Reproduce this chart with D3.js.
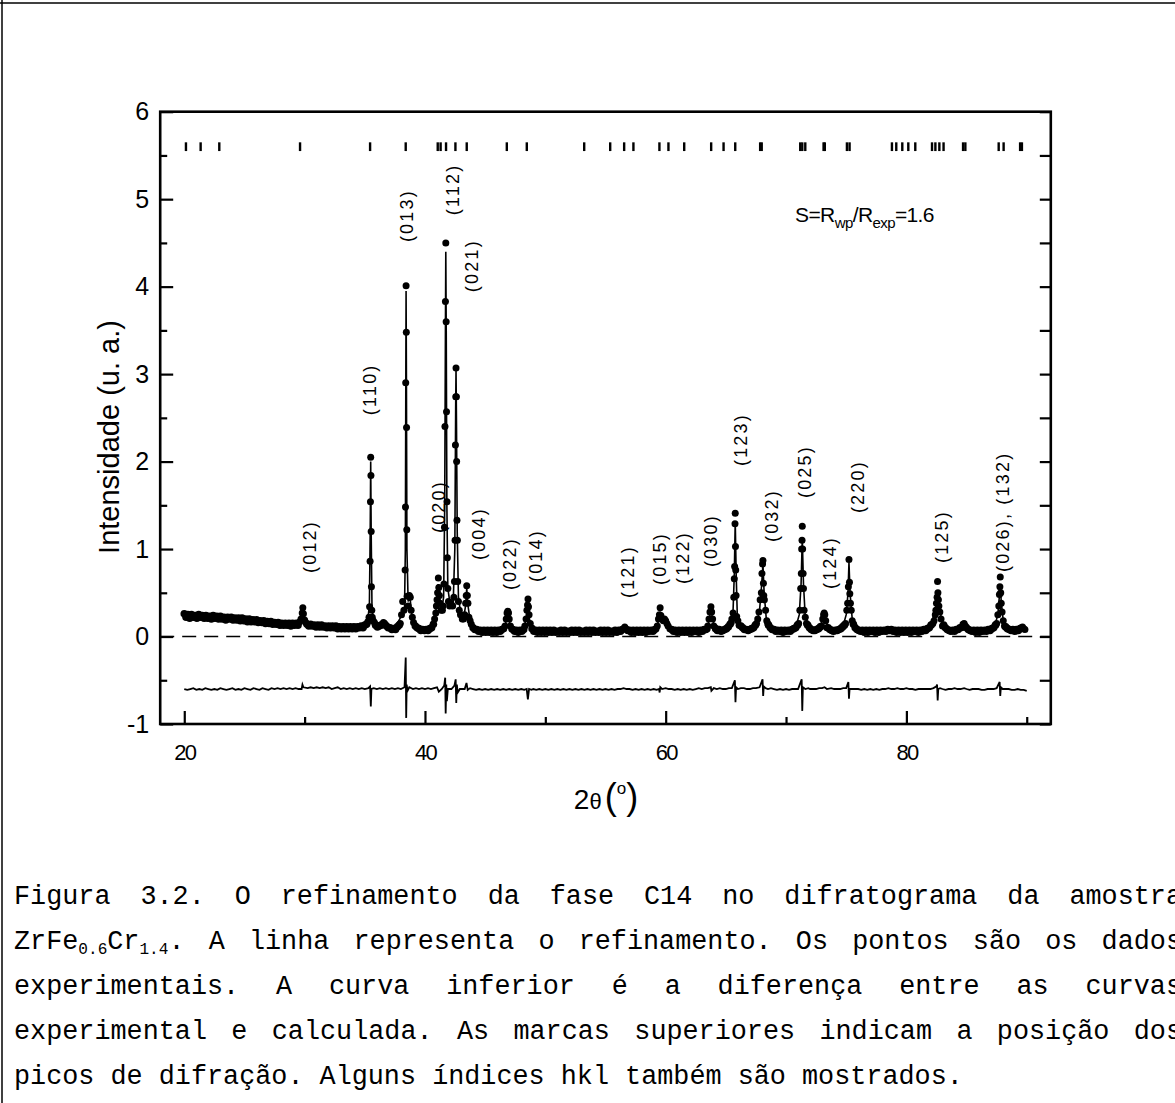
<!DOCTYPE html>
<html><head><meta charset="utf-8">
<script src="https://cdn.jsdelivr.net/npm/d3@7"></script>
<style>
html,body{margin:0;padding:0;background:#fff;}
svg{display:block;}
</style></head><body>
<svg id="c" width="1175" height="1103"></svg>
<script>
// ---------------- DATA ----------------
const xTicksMajor = [20, 40, 60, 80];
const xTicksMinor = [30, 50, 70, 90];
const yTicksMajor = [-1, 0, 1, 2, 3, 4, 5, 6];
const yTicksMinor = [-0.5, 0.5, 1.5, 2.5, 3.5, 4.5, 5.5];

// observed points: background band (2theta, intensity)
const obsBackground = [
[20.0,.26],[20.15,.22],[20.3,.25],[20.45,.21],[20.6,.25],[20.75,.22],[20.9,.24],[21.05,.21],[21.2,.25],[21.35,.22],
[21.5,.24],[21.65,.21],[21.8,.24],[21.95,.21],[22.1,.23],[22.25,.20],[22.4,.24],[22.55,.21],[22.7,.23],[22.85,.20],
[23.0,.23],[23.15,.20],[23.3,.22],[23.45,.19],[23.6,.22],[23.75,.20],[23.9,.22],[24.05,.19],[24.2,.21],[24.35,.19],
[24.5,.21],[24.65,.18],[24.8,.21],[24.95,.18],[25.1,.20],[25.25,.17],[25.4,.20],[25.55,.17],[25.7,.19],[25.85,.17],
[26.0,.19],[26.15,.16],[26.3,.18],[26.45,.16],[26.6,.18],[26.75,.15],[26.9,.17],[27.05,.15],[27.2,.17],[27.35,.14],
[27.5,.16],[27.65,.14],[27.8,.16],[27.95,.13],[28.1,.15],[28.25,.13],[28.4,.15],[28.55,.13],[28.7,.15],[28.85,.12],
[29.0,.15],[29.15,.13],[29.3,.15],[29.45,.13],[30.2,.14],[30.35,.12],[30.5,.14],[30.65,.12],[30.8,.13],[30.95,.11],
[31.1,.13],[31.25,.11],[31.4,.13],[31.55,.11],[31.7,.12],[31.85,.10],[32.0,.12],[32.15,.10],[32.3,.12],[32.45,.10],
[32.6,.12],[32.75,.09],[32.9,.11],[33.05,.09],[33.2,.11],[33.35,.09],[33.5,.11],[33.65,.09],[33.8,.11],[33.95,.09],
[34.1,.11],[34.25,.09],[34.4,.11],[34.55,.10],[34.7,.12],[34.85,.10],[35.0,.13],[35.15,.14],[35.9,.13],[36.05,.11],
[36.2,.12],[36.35,.13],[36.8,.12],[36.95,.10],[37.1,.10],[37.25,.08],[37.4,.09],[37.55,.08],[37.7,.11],[37.85,.13],
[39.2,.12],[39.35,.10],[39.5,.09],[39.65,.07],[39.8,.08],[39.95,.07],[40.1,.08],[40.25,.07],[40.4,.09],[40.55,.10],
[40.7,.14],[44.0,.10],[44.15,.08],[44.3,.08],[44.45,.06],[44.6,.07],[44.75,.05],[44.9,.07],[45.05,.05],[45.2,.07],
[45.35,.05],[45.5,.07],[45.65,.05],[45.8,.07],[45.95,.05],[46.1,.07],[46.25,.06],[46.4,.08],[47.3,.08],[47.45,.06],
[47.6,.07],[47.75,.05],[47.9,.07],[48.05,.06],[48.2,.08],[48.9,.09],[49.05,.06],[49.2,.07],[49.35,.05],[49.5,.07],
[49.65,.05],[49.8,.07],[49.95,.05],[50.1,.07],[50.25,.05],[50.4,.07],[50.55,.05],[50.7,.07],[50.85,.05],[51.0,.06],
[51.15,.05],[51.3,.07],[51.45,.05],[51.6,.07],[51.75,.05],[51.9,.06],[52.05,.05],[52.2,.07],[52.35,.05],[52.5,.07],
[52.65,.05],[52.8,.07],[52.95,.05],[53.1,.06],[53.25,.05],[53.4,.07],[53.55,.05],[53.7,.07],[53.85,.05],[54.0,.07],
[54.15,.05],[54.3,.06],[54.45,.05],[54.6,.07],[54.75,.05],[54.9,.07],[55.05,.05],[55.2,.07],[55.35,.05],[55.5,.06],
[55.65,.05],[55.8,.07],[55.95,.05],[56.1,.07],[56.25,.06],[56.4,.08],[56.85,.07],[57.0,.07],[57.15,.05],[57.3,.07],
[57.45,.05],[57.6,.07],[57.75,.05],[57.9,.07],[58.05,.05],[58.2,.07],[58.35,.05],[58.5,.07],[58.65,.06],[58.8,.07],
[58.95,.06],[59.1,.08],[60.5,.08],[60.65,.06],[60.8,.07],[60.95,.05],[61.1,.07],[61.25,.05],[61.4,.07],[61.55,.05],
[61.7,.07],[61.85,.05],[62.0,.07],[62.15,.05],[62.3,.07],[62.45,.06],[62.6,.07],[62.75,.05],[62.9,.07],[63.05,.06],
[63.2,.08],[63.35,.08],[64.15,.09],[64.3,.07],[64.45,.08],[64.6,.06],[64.75,.07],[64.9,.08],[65.05,.09],[65.2,.11],
[65.35,.14],[66.25,.12],[66.4,.10],[66.55,.08],[66.7,.08],[66.85,.07],[67.0,.08],[67.15,.09],[67.3,.10],[67.45,.13],
[68.55,.13],[68.7,.10],[68.85,.08],[69.0,.08],[69.15,.06],[69.3,.07],[69.45,.06],[69.6,.07],[69.75,.05],[69.9,.07],
[70.05,.06],[70.2,.07],[70.35,.06],[70.5,.08],[70.65,.09],[70.8,.10],[70.95,.13],[71.8,.13],[71.95,.10],[72.1,.08],
[72.25,.07],[72.4,.07],[72.55,.08],[72.7,.09],[72.85,.11],[73.5,.10],[73.65,.08],[73.8,.07],[73.95,.06],[74.1,.07],
[74.25,.07],[74.4,.08],[74.55,.09],[74.7,.11],[74.85,.13],[75.6,.14],[75.75,.10],[75.9,.08],[76.05,.07],[76.2,.06],
[76.35,.07],[76.5,.05],[76.65,.07],[76.8,.05],[76.95,.07],[77.1,.06],[77.25,.07],[77.4,.05],[77.55,.07],[77.7,.05],
[77.85,.07],[78.0,.06],[78.15,.07],[78.3,.06],[78.45,.08],[78.6,.07],[78.75,.08],[78.9,.06],[79.05,.07],[79.2,.05],
[79.35,.07],[79.5,.05],[79.65,.07],[79.8,.05],[79.95,.07],[80.1,.05],[80.25,.07],[80.4,.05],[80.55,.07],[80.7,.06],
[80.85,.07],[81.0,.05],[81.15,.07],[81.3,.06],[81.45,.08],[81.6,.07],[81.75,.09],[81.9,.10],[82.05,.13],[83.1,.13],
[83.25,.10],[83.4,.08],[83.55,.07],[83.7,.06],[83.85,.07],[84.0,.06],[84.15,.08],[84.3,.08],[84.45,.10],[85.0,.10],
[85.15,.08],[85.3,.07],[85.45,.06],[85.6,.07],[85.75,.05],[85.9,.07],[86.05,.05],[86.2,.07],[86.35,.06],[86.5,.07],
[86.65,.06],[86.8,.08],[86.95,.07],[87.1,.09],[87.25,.10],[87.4,.13],[88.25,.11],[88.4,.09],[88.55,.08],[88.7,.07],
[88.85,.08],[89.0,.06],[89.15,.08],[89.3,.07],[89.45,.09]
];

// observed points on the diffraction peaks (2theta, intensity)
const obsPeaks = [
[29.6,.17],[29.7,.20],[29.8,.27],[29.85,.33],[29.9,.26],[30.0,.19],[30.1,.16],
[35.25,.17],[35.35,.22],[35.40,.34],[35.44,.86],[35.47,1.54],[35.49,2.05],[35.51,1.84],[35.53,1.20],[35.55,.57],[35.58,.30],[35.62,.22],[35.7,.18],[35.8,.16],
[36.45,.14],[36.55,.16],[36.65,.15],[36.75,.13],
[37.95,.15],[38.05,.25],[38.15,.40],[38.25,.30],[38.35,.76],[38.38,1.48],[38.40,2.90],[38.43,4.01],[38.45,3.48],[38.47,2.39],[38.49,1.22],[38.52,.46],[38.6,.35],[38.7,.47],[38.78,.45],[38.85,.30],[38.95,.22],[39.05,.16],
[40.8,.20],[40.9,.27],[40.95,.35],[41.0,.42],[41.05,.50],[41.11,.67],[41.15,.56],[41.2,.47],[41.25,.38],[41.35,.30],[41.45,.30],
[41.5,.35],[41.58,.60],[41.62,1.25],[41.66,2.40],[41.70,3.83],[41.73,4.50],[41.76,3.60],[41.79,2.57],[41.83,1.54],[41.86,.90],[41.9,.55],[41.95,.40],[42.05,.35],[42.15,.38],
[42.3,.35],[42.4,.45],[42.45,.63],[42.5,1.10],[42.53,2.19],[42.56,2.74],[42.58,3.07],[42.61,2.74],[42.63,2.00],[42.66,1.33],[42.69,1.10],[42.72,.63],[42.78,.40],[42.85,.30],[42.95,.25],
[43.1,.20],[43.2,.20],[43.3,.25],[43.38,.38],[43.43,.47],[43.47,.58],[43.52,.47],[43.57,.38],[43.65,.22],[43.75,.18],[43.85,.14],
[46.55,.09],[46.65,.12],[46.75,.20],[46.82,.27],[46.88,.29],[46.94,.27],[47.0,.20],[47.1,.12],[47.2,.09],
[48.3,.12],[48.4,.20],[48.47,.30],[48.52,.36],[48.56,.43],[48.6,.34],[48.65,.25],[48.75,.15],
[56.5,.09],[56.6,.11],[56.7,.09],
[59.2,.09],[59.3,.12],[59.4,.20],[59.48,.25],[59.54,.33],[59.6,.24],[59.7,.20],[59.8,.18],[59.9,.20],[60.0,.18],[60.1,.15],[60.2,.12],[60.35,.09],
[63.45,.09],[63.5,.12],[63.6,.20],[63.68,.28],[63.76,.34],[63.82,.28],[63.9,.20],[64.0,.12],
[65.45,.16],[65.5,.20],[65.6,.27],[65.66,.45],[65.7,.66],[65.73,.80],[65.76,1.29],[65.78,1.41],[65.8,1.03],[65.82,.76],[65.85,.47],[65.9,.23],[66.0,.18],[66.1,.13],
[67.55,.15],[67.65,.20],[67.75,.28],[67.85,.42],[67.95,.50],[68.0,.72],[68.05,.83],[68.08,.87],[68.12,.61],[68.15,.47],[68.2,.42],[68.3,.30],[68.4,.18],[68.48,.15],
[71.05,.15],[71.15,.30],[71.22,.55],[71.27,.72],[71.3,1.00],[71.33,1.10],[71.35,1.26],[71.38,1.00],[71.42,.72],[71.45,.55],[71.5,.30],[71.6,.22],[71.7,.15],
[72.95,.12],[73.05,.20],[73.12,.25],[73.17,.27],[73.22,.25],[73.3,.18],[73.4,.10],
[74.95,.15],[75.05,.30],[75.12,.38],[75.18,.57],[75.23,.88],[75.27,.62],[75.3,.49],[75.35,.38],[75.42,.30],[75.5,.18],
[82.2,.15],[82.3,.18],[82.4,.25],[82.45,.30],[82.5,.38],[82.55,.45],[82.59,.63],[82.62,.50],[82.66,.42],[82.7,.35],[82.78,.28],[82.88,.20],[83.0,.12],
[84.6,.10],[84.7,.14],[84.8,.15],[84.9,.12],
[87.5,.15],[87.6,.25],[87.68,.35],[87.73,.48],[87.77,.57],[87.8,.68],[87.84,.50],[87.88,.38],[87.95,.28],[88.05,.18],[88.15,.12],
[89.55,.10],[89.65,.11],[89.75,.09],[89.85,.08]
];

// calculated (refined) profile
const calcProfile = [
[20,.24],[22,.23],[24,.215],[26,.19],[28,.16],[29.6,.15],[29.75,.2],[29.83,.28],[29.92,.2],[30.1,.15],[32,.12],[34,.11],
[35.2,.14],[35.38,.35],[35.45,1.2],[35.49,2.0],[35.53,1.2],[35.6,.3],[35.8,.16],[36.3,.13],[36.55,.16],[36.8,.13],[37.5,.1],
[38.1,.25],[38.3,.32],[38.37,1.0],[38.41,3.0],[38.43,3.95],[38.46,2.9],[38.5,1.0],[38.6,.4],[38.75,.45],[38.95,.2],[39.5,.09],
[40.5,.09],[40.85,.22],[41.0,.42],[41.1,.6],[41.2,.45],[41.4,.32],[41.55,.45],[41.64,1.5],[41.7,3.5],[41.73,4.4],[41.77,3.4],
[41.82,1.5],[41.9,.55],[42.1,.36],[42.35,.4],[42.48,1.0],[42.55,2.6],[42.58,3.05],[42.62,2.4],[42.68,1.2],[42.78,.45],[42.95,.28],
[43.2,.2],[43.38,.36],[43.47,.55],[43.57,.36],[43.75,.18],[44.2,.09],[46.0,.07],[46.7,.15],[46.88,.27],[47.05,.15],[47.4,.07],
[48.2,.08],[48.42,.22],[48.55,.38],[48.68,.2],[48.9,.08],[56.3,.07],[56.6,.1],[56.9,.07],[59.2,.08],[59.4,.18],[59.54,.28],
[59.7,.2],[59.9,.19],[60.1,.15],[60.4,.08],[63.4,.08],[63.6,.18],[63.76,.32],[63.92,.18],[64.2,.08],[65.3,.12],[65.6,.3],
[65.7,.7],[65.78,1.32],[65.86,.7],[65.95,.25],[66.3,.1],[67.5,.12],[67.8,.3],[67.98,.6],[68.08,.83],[68.18,.5],[68.35,.22],
[68.7,.1],[70.8,.1],[71.1,.25],[71.25,.6],[71.35,1.12],[71.45,.6],[71.6,.22],[72.0,.09],[72.8,.1],[73.05,.2],[73.17,.26],
[73.3,.18],[73.6,.08],[74.7,.1],[75.0,.25],[75.15,.5],[75.23,.85],[75.32,.5],[75.5,.2],[76.0,.07],[81.8,.08],[82.2,.2],
[82.45,.35],[82.59,.5],[82.72,.35],[82.95,.18],[83.4,.08],[84.4,.08],[84.75,.15],[85.1,.08],[87.3,.1],[87.6,.25],[87.72,.45],
[87.8,.6],[87.88,.4],[88.05,.18],[88.4,.08],[89.4,.08],[89.6,.1],[89.9,.08]
];

// difference curve (observed - calculated, offset)
const diffCurve = [
[20,-.60],[20.25,-.61],[20.5,-.60],[20.75,-.59],[21,-.61],[21.25,-.60],[21.5,-.61],[21.75,-.59],[22,-.60],[22.25,-.61],
[22.5,-.60],[22.75,-.61],[23,-.59],[23.25,-.60],[23.5,-.61],[23.75,-.60],[24,-.59],[24.25,-.61],[24.5,-.60],[24.75,-.61],
[25,-.59],[25.25,-.60],[25.5,-.61],[25.75,-.59],[26,-.60],[26.25,-.61],[26.5,-.59],[26.75,-.60],[27,-.61],[27.25,-.59],
[27.5,-.60],[27.75,-.59],[28,-.60],[28.25,-.59],[28.5,-.60],[28.75,-.59],[29,-.60],[29.25,-.59],[29.5,-.60],[29.75,-.60],
[29.82,-.55],[29.9,-.58],[30.25,-.59],[30.5,-.58],[30.75,-.59],[31,-.58],[31.25,-.59],[31.5,-.58],[31.75,-.59],[32,-.58],
[32.25,-.60],[32.5,-.59],[32.75,-.58],[33,-.60],[33.25,-.59],[33.5,-.60],[33.75,-.59],[34,-.60],[34.25,-.59],[34.5,-.60],
[34.75,-.59],[35,-.60],[35.3,-.59],[35.44,-.57],[35.5,-.80],[35.55,-.60],[35.75,-.59],[36,-.60],[36.25,-.59],[36.5,-.60],
[36.75,-.59],[37,-.60],[37.25,-.59],[37.5,-.60],[37.75,-.59],[38,-.60],[38.3,-.58],[38.4,-.24],[38.44,-.93],[38.48,-.55],
[38.55,-.62],[38.7,-.58],[39,-.60],[39.25,-.59],[39.5,-.60],[39.75,-.59],[40,-.60],[40.25,-.59],[40.5,-.60],[40.75,-.59],
[41,-.58],[41.15,-.63],[41.4,-.60],[41.6,-.56],[41.68,-.47],[41.72,-.88],[41.77,-.55],[41.82,-.74],[41.9,-.60],[42.2,-.60],
[42.45,-.56],[42.55,-.49],[42.6,-.76],[42.65,-.55],[42.72,-.64],[42.9,-.60],[43.3,-.60],[43.45,-.53],[43.55,-.61],[43.75,-.59],
[44,-.60],[44.25,-.61],[44.5,-.60],[44.75,-.61],[45,-.60],[45.25,-.61],[45.5,-.60],[45.75,-.61],[46,-.60],[46.25,-.61],
[46.5,-.60],[46.75,-.61],[47,-.60],[47.25,-.61],[47.5,-.60],[47.75,-.61],[48,-.60],[48.25,-.61],[48.45,-.60],[48.55,-.72],
[48.65,-.60],[48.85,-.61],[49,-.60],[49.25,-.61],[49.5,-.60],[49.75,-.61],[50,-.60],[50.25,-.61],[50.5,-.60],[50.75,-.61],
[51,-.60],[51.25,-.61],[51.5,-.60],[51.75,-.61],[52,-.60],[52.25,-.61],[52.5,-.60],[52.75,-.61],[53,-.60],[53.25,-.61],
[53.5,-.60],[53.75,-.61],[54,-.60],[54.25,-.61],[54.5,-.60],[54.75,-.61],[55,-.60],[55.25,-.61],[55.5,-.60],[55.75,-.61],
[56,-.60],[56.25,-.60],[56.5,-.59],[56.75,-.60],[57,-.60],[57.25,-.61],[57.5,-.60],[57.75,-.61],[58,-.60],[58.25,-.61],
[58.5,-.60],[58.75,-.61],[59,-.60],[59.25,-.61],[59.45,-.60],[59.5,-.64],[59.55,-.58],[59.7,-.60],[60,-.59],[60.25,-.60],
[60.5,-.60],[60.75,-.61],[61,-.60],[61.25,-.61],[61.5,-.60],[61.75,-.61],[62,-.60],[62.25,-.61],[62.5,-.60],[62.75,-.59],
[63,-.60],[63.25,-.59],[63.5,-.59],[63.75,-.58],[63.8,-.62],[64,-.59],[64.25,-.60],[64.5,-.59],[64.75,-.60],[65,-.60],
[65.25,-.59],[65.5,-.59],[65.75,-.50],[65.8,-.75],[65.85,-.58],[66,-.60],[66.25,-.59],[66.5,-.59],[66.75,-.60],[67,-.60],
[67.25,-.59],[67.5,-.59],[67.8,-.58],[68.05,-.49],[68.1,-.68],[68.15,-.57],[68.3,-.59],[68.5,-.60],[68.75,-.59],[69,-.60],
[69.25,-.61],[69.5,-.60],[69.75,-.61],[70,-.60],[70.25,-.61],[70.5,-.60],[70.75,-.60],[71,-.60],[71.3,-.49],[71.35,-.85],
[71.4,-.58],[71.6,-.60],[71.85,-.59],[72,-.60],[72.25,-.60],[72.5,-.60],[72.75,-.59],[73,-.59],[73.2,-.58],[73.4,-.60],
[73.75,-.59],[74,-.60],[74.25,-.60],[74.5,-.60],[74.75,-.59],[75,-.59],[75.18,-.52],[75.23,-.71],[75.28,-.60],[75.5,-.60],
[75.75,-.60],[76,-.60],[76.25,-.61],[76.5,-.60],[76.75,-.61],[77,-.60],[77.25,-.61],[77.5,-.60],[77.75,-.61],[78,-.60],
[78.25,-.60],[78.5,-.59],[78.75,-.60],[79,-.60],[79.25,-.59],[79.5,-.60],[79.75,-.60],[80,-.59],[80.25,-.60],[80.5,-.60],
[80.75,-.61],[81,-.60],[81.25,-.60],[81.5,-.60],[81.75,-.60],[82,-.60],[82.25,-.59],[82.5,-.57],[82.55,-.55],[82.6,-.73],
[82.65,-.60],[82.8,-.59],[83,-.60],[83.25,-.61],[83.5,-.60],[83.75,-.60],[84,-.59],[84.25,-.60],[84.5,-.60],[84.8,-.59],
[85,-.60],[85.25,-.61],[85.5,-.60],[85.75,-.60],[86,-.60],[86.25,-.61],[86.5,-.61],[86.75,-.60],[87,-.60],[87.25,-.60],
[87.5,-.59],[87.75,-.52],[87.8,-.68],[87.85,-.58],[88,-.60],[88.25,-.60],[88.5,-.60],[88.75,-.61],[89,-.61],[89.25,-.60],
[89.5,-.61],[89.75,-.61],[90,-.62]
];

// Bragg reflection positions (top marks), 2theta
const braggPositions = [20.14,21.36,22.91,29.62,35.44,38.40,41.06,41.30,41.75,42.53,43.47,46.80,48.46,53.23,55.39,56.55,
57.32,59.48,60.23,61.54,63.78,64.81,65.78,67.85,67.98,71.18,71.35,71.6,73.12,73.22,75.06,75.28,78.8,79.16,79.66,80.16,80.74,
82.13,82.41,82.74,83.09,84.71,84.9,87.67,88.08,89.45,89.6];

// hkl annotations: [label, 2theta, intensity] (start of rotated text)
const hklLabels = [
["(012)",30.45,.726],["(110)",35.44,2.531],["(013)",38.51,4.509],["(112)",42.33,4.817],["(021)",43.91,3.937],
["(020)",41.17,1.183],["(004)",44.50,.874],["(022)",47.0,.531],["(014)",49.24,.623],["(121)",56.88,.44],
["(015)",59.54,.589],["(122)",61.45,.60],["(030)",63.78,.794],["(123)",66.27,1.949],["(032)",68.85,1.08],
["(025)",71.59,1.583],["(124)",73.59,.543],["(220)",75.92,1.411],["(125)",82.9,.84],["(026), (132)",87.97,.737]
];

const captionLines = [
["Figura","3.2.","O","refinamento","da","fase","C14","no","difratograma","da","amostra"],
["ZrFe_0.6_Cr_1.4_.","A","linha","representa","o","refinamento.","Os","pontos","são","os","dados"],
["experimentais.","A","curva","inferior","é","a","diferença","entre","as","curvas"],
["experimental","e","calculada.","As","marcas","superiores","indicam","a","posição","dos"],
["picos","de","difração.","Alguns","índices","hkl","também","são","mostrados."]
];

// ---------------- DRAW ----------------
const svg = d3.select("#c");
const SANS = "'Liberation Sans', Arial, Helvetica, sans-serif";
const MONO = "'Liberation Mono', 'Courier New', monospace";

const x = d3.scaleLinear().domain([18, 92]).range([160.2, 1050.8]);
const y = d3.scaleLinear().domain([-1, 6]).range([724, 111.7]);

// page border
svg.append("line").attr("x1",0).attr("x2",1175).attr("y1",3).attr("y2",3).attr("stroke","#000").attr("stroke-width",1.5);
svg.append("line").attr("x1",2).attr("x2",2).attr("y1",0).attr("y2",1103).attr("stroke","#000").attr("stroke-width",1.5);

// zero dashed line
svg.append("line").attr("x1",x(18)).attr("x2",x(92)).attr("y1",y(0)).attr("y2",y(0))
  .attr("stroke","#000").attr("stroke-width",1.6).attr("stroke-dasharray","14,8");

const line = d3.line().x(d=>x(d[0])).y(d=>y(d[1]));
svg.append("path").datum(calcProfile).attr("d",line).attr("fill","none").attr("stroke","#000").attr("stroke-width",1.6);
svg.append("path").datum(diffCurve).attr("d",line).attr("fill","none").attr("stroke","#000").attr("stroke-width",1.8);

const dots = svg.append("g");
dots.selectAll("circle.b").data(obsBackground).join("circle").attr("class","b")
  .attr("cx",d=>x(d[0])).attr("cy",d=>y(d[1])).attr("r",3.8).attr("fill","#000");
dots.selectAll("circle.p").data(obsPeaks).join("circle").attr("class","p")
  .attr("cx",d=>x(d[0])).attr("cy",d=>y(d[1])).attr("r",3.5).attr("fill","#000");

// Bragg marks
svg.append("g").selectAll("line").data(braggPositions).join("line")
  .attr("x1",d=>x(d)).attr("x2",d=>x(d)).attr("y1",y(5.65)).attr("y2",y(5.55))
  .attr("stroke","#000").attr("stroke-width",2.4);

// axes
function styleAxis(g){ g.select(".domain").remove(); g.selectAll(".tick line").attr("stroke","#000").attr("stroke-width",2.2); }
const x0 = x.range()[0], x1 = x.range()[1], y0 = y.range()[0], y1 = y.range()[1];

svg.append("g").attr("transform",`translate(${x0},0)`)
  .call(d3.axisLeft(y).tickValues(yTicksMajor).tickSize(-13).tickPadding(11).tickFormat(d=>String(d)))
  .call(styleAxis)
  .call(g=>g.selectAll("text").attr("font-family",SANS).attr("font-size",25).attr("fill","#000"));
svg.append("g").attr("transform",`translate(${x0},0)`)
  .call(d3.axisLeft(y).tickValues(yTicksMinor).tickSize(-7).tickFormat(""))
  .call(styleAxis);
svg.append("g").attr("transform",`translate(${x1},0)`)
  .call(d3.axisRight(y).tickValues(yTicksMajor.concat(yTicksMinor)).tickSize(-11).tickFormat(""))
  .call(styleAxis);
svg.append("g").attr("transform",`translate(0,${y0})`)
  .call(d3.axisBottom(x).tickValues(xTicksMajor).tickSize(-13).tickPadding(20).tickFormat(d=>String(d)))
  .call(styleAxis)
  .call(g=>g.selectAll("text").attr("font-family",SANS).attr("font-size",22).attr("letter-spacing","-1.8px").attr("fill","#000"));
svg.append("g").attr("transform",`translate(0,${y0})`)
  .call(d3.axisBottom(x).tickValues(xTicksMinor).tickSize(-7).tickFormat(""))
  .call(styleAxis);

// frame
svg.append("rect").attr("x",x0).attr("y",y1).attr("width",x1-x0).attr("height",y0-y1)
  .attr("fill","none").attr("stroke","#000").attr("stroke-width",2.6);

// hkl labels
svg.append("g").selectAll("text").data(hklLabels).join("text")
  .attr("transform",d=>`translate(${x(d[1])},${y(d[2])}) rotate(-90)`)
  .attr("dy","0.35em").attr("font-family",SANS).attr("font-size",18).attr("letter-spacing","2.2px")
  .attr("fill","#000").text(d=>d[0]);

// S = Rwp/Rexp annotation
const ann = svg.append("text").attr("x",x(70.75)).attr("y",y(4.74)).attr("font-family",SANS).attr("font-size",21)
  .attr("letter-spacing","-0.6px").attr("fill","#000");
ann.append("tspan").text("S=R");
ann.append("tspan").attr("font-size",15).attr("dy",6).text("wp");
ann.append("tspan").attr("dy",-6).text("/R");
ann.append("tspan").attr("font-size",15).attr("dy",6).text("exp");
ann.append("tspan").attr("dy",-6).text("=1.6");

// axis titles
svg.append("text").attr("transform",`translate(119,437) rotate(-90)`).attr("text-anchor","middle")
  .attr("font-family",SANS).attr("font-size",29).attr("fill","#000").text("Intensidade (u. a.)");

const xt = svg.append("text").attr("x",606).attr("y",809).attr("text-anchor","middle")
  .attr("font-family",SANS).attr("fill","#000");
xt.append("tspan").attr("font-size",28).text("2");
xt.append("tspan").attr("font-size",22).text("θ");
xt.append("tspan").attr("font-size",36).attr("dx",3).text("(");
xt.append("tspan").attr("font-size",17).attr("dy",-15).text("o");
xt.append("tspan").attr("font-size",36).attr("dy",15).text(")");

// caption (justified monospace paragraph)
const capLeft = 14, capRight = 1182, capTop = 904, capStep = 45, capSize = 26.8;
captionLines.forEach((words, li) => {
  const yy = capTop + li*capStep;
  const nodes = words.map(w => {
    const t = svg.append("text").attr("y",yy).attr("font-family",MONO).attr("font-size",capSize).attr("fill","#000");
    const parts = w.split("_");
    parts.forEach((p,i) => {
      if (i%2===1) t.append("tspan").attr("font-size",capSize*0.6).attr("dy",5).text(p);
      else t.append("tspan").attr("dy", i>0 ? -5 : 0).text(p);
    });
    return t;
  });
  const widths = nodes.map(n => n.node().getComputedTextLength());
  const total = d3.sum(widths);
  const last = li === captionLines.length-1;
  const gap = last ? capSize*0.6 : (capRight - capLeft - total)/(words.length-1);
  let cx = capLeft;
  nodes.forEach((n,i) => { n.attr("x",cx); cx += widths[i] + gap; });
});
</script></body></html>
